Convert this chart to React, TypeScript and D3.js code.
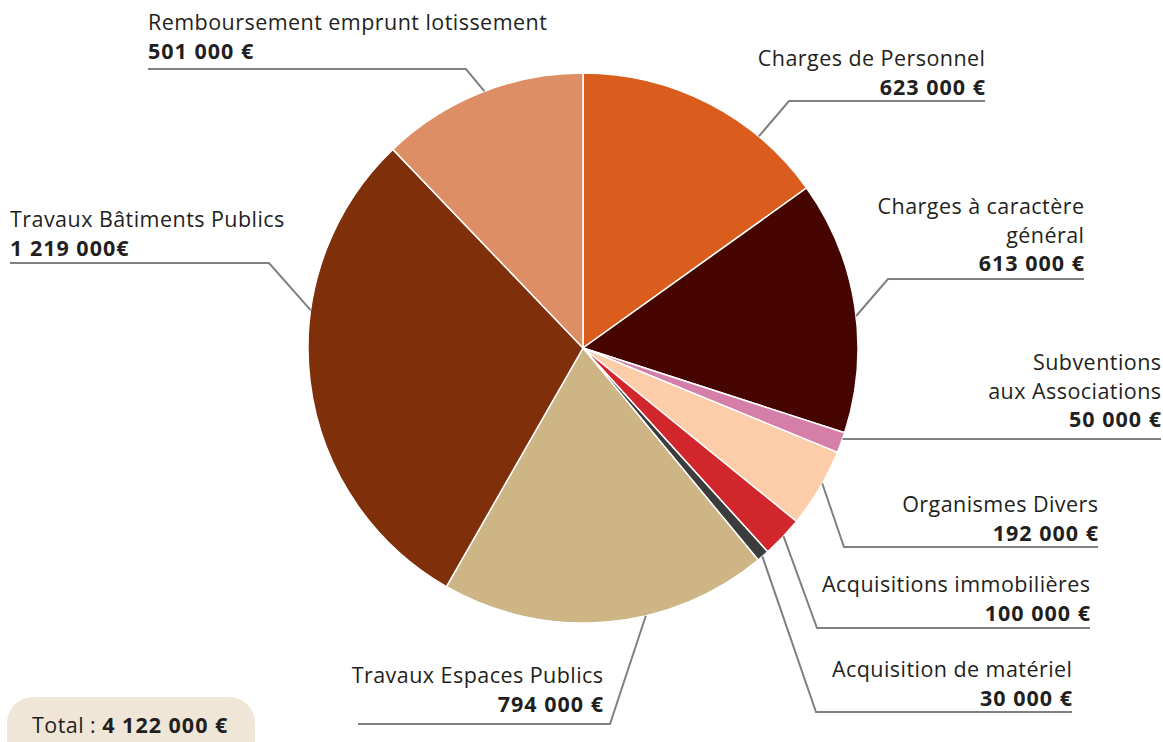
import React, { useEffect } from 'react';
import * as d3 from 'd3';

const categories = [
  'Charges de Personnel',
  'Charges à caractère général',
  'Subventions aux Associations',
  'Organismes Divers',
  'Acquisitions immobilières',
  'Acquisition de matériel',
  'Travaux Espaces Publics',
  'Travaux Bâtiments Publics',
  'Remboursement emprunt lotissement',
];

const amounts = [623000, 613000, 50000, 192000, 100000, 30000, 794000, 1219000, 501000];

const valueLabels = [
  '623 000 €', '613 000 €', '50 000 €', '192 000 €', '100 000 €',
  '30 000 €', '794 000 €', '1 219 000€', '501 000 €',
];

// label text split on lines as in the original
const labelLines = [
  ['Charges de Personnel'],
  ['Charges à caractère', 'général'],
  ['Subventions', 'aux Associations'],
  ['Organismes Divers'],
  ['Acquisitions immobilières'],
  ['Acquisition de matériel'],
  ['Travaux Espaces Publics'],
  ['Travaux Bâtiments Publics'],
  ['Remboursement emprunt lotissement'],
];

const colors = ['#da5d1e', '#460500', '#d47ea8', '#fdcca8', '#d1262c', '#3c3c3c', '#ceb586', '#7f2f0a', '#de8e64'];

const totalLabel = '4 122 000 €';

// annotation layout: t = position of the leader end inside the slice,
// elbowX / lineY = horizontal rule, endX = far end of rule, textX + anchor, first baseline
const layout = [
  { t: 0.73, elbowX: 789, lineY: 101, endX: 985, textX: 985, anchor: 'end', y0: 66 },
  { t: 0.54, elbowX: 888, lineY: 279, endX: 1084, textX: 1084, anchor: 'end', y0: 214 },
  { t: 0.31, elbowX: null, lineY: 439, endX: 1161, textX: 1161, anchor: 'end', y0: 370 },
  { t: 0.43, elbowX: 844, lineY: 547, endX: 1098, textX: 1098, anchor: 'end', y0: 512 },
  { t: 0.47, elbowX: 817, lineY: 628, endX: 1090, textX: 1090, anchor: 'end', y0: 592 },
  { t: 0.56, elbowX: 816, lineY: 712, endX: 1072, textX: 1072, anchor: 'end', y0: 677 },
  { t: 0.38, elbowX: 610, lineY: 724, endX: 358, textX: 603, anchor: 'end', y0: 683 },
  { t: 0.64, elbowX: 269, lineY: 263, endX: 10, textX: 10, anchor: 'start', y0: 227 },
  { t: 0.52, elbowX: 466, lineY: 69, endX: 148, textX: 148, anchor: 'start', y0: 30 },
];

const W = 1163;
const H = 742;
const cx = 583;
const cy = 348;
const radius = 275;
const lineGap = 28.5;
const fontSize = 21.5;
const font = "'Open Sans', 'Noto Sans', sans-serif";

export default function App() {
  useEffect(() => {
    document.body.style.margin = '0';
  }, []);

  const data = categories.map((c, i) => ({ label: c, value: amounts[i] }));
  const pie = d3.pie<{ label: string; value: number }>().value(d => d.value).sort(null);
  const arcs = pie(data);
  const arc = d3.arc<d3.PieArcDatum<{ label: string; value: number }>>()
    .innerRadius(0)
    .outerRadius(radius);

  return (
    <svg width={W} height={H} style={{ display: 'block', fontFamily: font }}>
      <g transform={`translate(${cx},${cy})`}>
        {arcs.map((a, i) => (
          <path key={i} d={arc(a) || ''} fill={colors[i]} stroke="#fff" strokeWidth={1.5} />
        ))}
      </g>

      {arcs.map((a, i) => {
        const l = layout[i];
        const ang = a.startAngle + l.t * (a.endAngle - a.startAngle);
        const px = cx + radius * Math.sin(ang);
        const py = cy - radius * Math.cos(ang);
        const pts = l.elbowX === null
          ? [[px, l.lineY], [l.endX, l.lineY]]
          : [[px, py], [l.elbowX, l.lineY], [l.endX, l.lineY]];
        const lines = labelLines[i];
        const dx = l.anchor === 'end' ? 0.5 : 0;
        return (
          <g key={i}>
            <path d={d3.line()(pts as [number, number][]) || ''} fill="none" stroke="#808080" strokeWidth={2} />
            <text textAnchor={l.anchor} fontSize={fontSize} fill="#231f20" letterSpacing={0.45}>
              {lines.map((s, j) => (
                <tspan key={j} x={l.textX + dx} y={l.y0 + j * lineGap}>{s}</tspan>
              ))}
              <tspan x={l.textX + (l.anchor === 'end' ? 1 : 0)} y={l.y0 + lines.length * lineGap}
                fontWeight={700} letterSpacing={1}>{valueLabels[i]}</tspan>
            </text>
          </g>
        );
      })}

      <rect x={7} y={697} width={248} height={70} rx={26} fill="#efe6d7" />
      <text x={32} y={733} fontSize={fontSize} fill="#231f20" letterSpacing={0.45}>
        Total : <tspan fontWeight={700} letterSpacing={1}>{totalLabel}</tspan>
      </text>
    </svg>
  );
}
